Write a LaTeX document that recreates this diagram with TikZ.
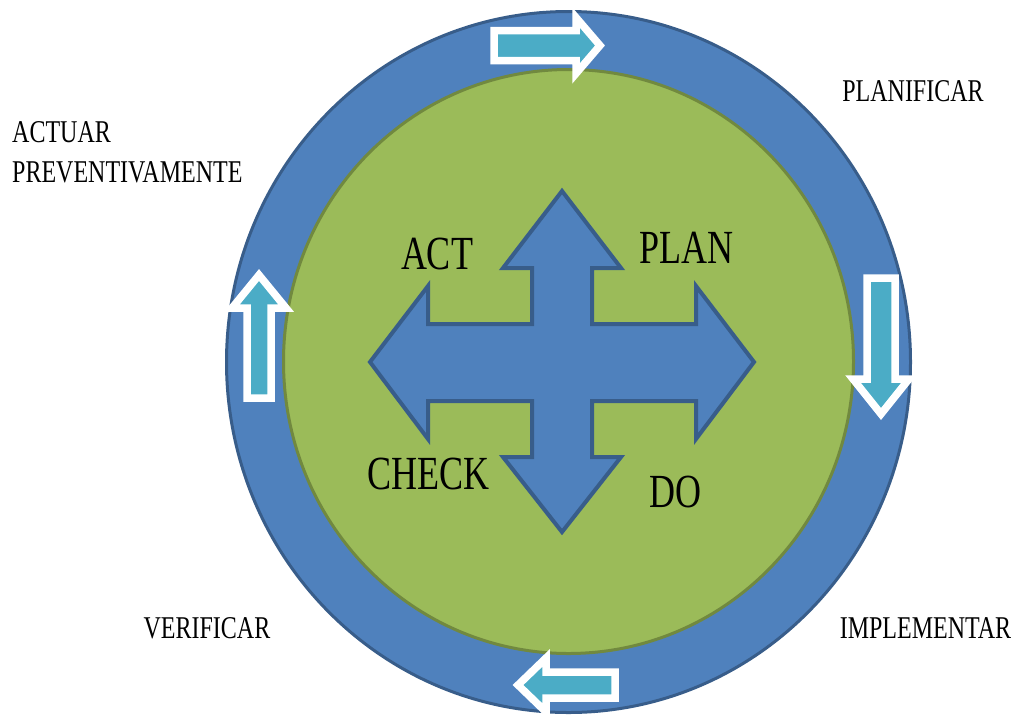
\documentclass[tikz,border=0pt]{standalone}
\usepackage{fontspec}
\setmainfont{Liberation Serif}

\definecolor{ringblue}{HTML}{4F81BD}
\definecolor{ringedge}{HTML}{385D8A}
\definecolor{leafgreen}{HTML}{9BBB59}
\definecolor{leafedge}{HTML}{71893F}
\definecolor{cyclecyan}{HTML}{4BACC6}

\newcommand{\tall}[1]{\scalebox{1}[1.32]{#1}}

\tikzset{
	bigword/.style = {inner sep = 0pt, font = \fontsize{36}{36}\selectfont},
	smallword/.style = {inner sep = 0pt, font = \fontsize{24}{24}\selectfont},
	cyclearrow/.style = {fill = cyclecyan, draw = white, line width = 7.5pt}
}

\begin{document}
\begin{tikzpicture}[x = 1pt, y = -1pt]

	\useasboundingbox (0, 0) rectangle (1019, 716);

	% Rings
	
	\draw [fill = ringblue, draw = ringedge, line width = 3pt] (568.5, 362) ellipse [x radius = 342pt, y radius = 350.5pt];
	\draw [fill = leafgreen, draw = leafedge, line width = 3pt] (568.5, 361.5) ellipse [x radius = 285pt, y radius = 292pt];
	
	% Cross in the middle
	
	\draw [fill = ringblue, draw = ringedge, line width = 4pt] (562, 191) -- (621, 268) -- (592, 268) -- (592, 324) -- (696, 324) -- (696, 286) -- (754, 362) -- (696, 439) -- (696, 401) -- (592, 401) -- (592, 457) -- (621, 457) -- (562, 532) -- (503, 457) -- (532, 457) -- (532, 401) -- (428, 401) -- (428, 439) -- (370, 362) -- (428, 286) -- (428, 324) -- (532, 324) -- (532, 268) -- (503, 268) -- cycle;
	
	% Arrows round the ring
	
	\begin{scope}[cyclearrow]
	
		\filldraw (494, 30.5) -- (576, 30.5) -- (576, 17.5) -- (600, 45.5) -- (576, 73.5) -- (576, 60.5) -- (494, 60.5) -- cycle;
		\filldraw (867, 278) -- (895, 278) -- (895, 379) -- (909, 379) -- (881, 414) -- (853, 379) -- (867, 379) -- cycle;
		\filldraw (615, 672) -- (546, 672) -- (546, 658) -- (518, 685) -- (546, 712) -- (546, 698) -- (615, 698) -- cycle;
		\filldraw (247, 398) -- (247, 308) -- (232, 308) -- (259, 275) -- (286, 308) -- (271, 308) -- (271, 398) -- cycle;
	
	\end{scope}
	
	% Words on the cross
	
	\node [bigword] (act) at (437, 254) {\tall{ACT}};
	\node [bigword] (plan) at (686, 248) {\tall{PLAN}};
	\node [bigword] (check) at (428, 474) {\tall{CHECK}};
	\node [bigword] (do) at (675, 492) {\tall{DO}};
	
	% Words outside
	
	\node [smallword, anchor = west] (actuar) at (12, 132.5) {\tall{ACTUAR}};
	\node [smallword, anchor = west] (preventivamente) at (12, 172) {\tall{PREVENTIVAMENTE}};
	\node [smallword] (planificar) at (913, 91) {\tall{PLANIFICAR}};
	\node [smallword] (verificar) at (207, 628.5) {\tall{VERIFICAR}};
	\node [smallword] (implementar) at (925.5, 628.5) {\tall{IMPLEMENTAR}};

\end{tikzpicture}
\end{document}
